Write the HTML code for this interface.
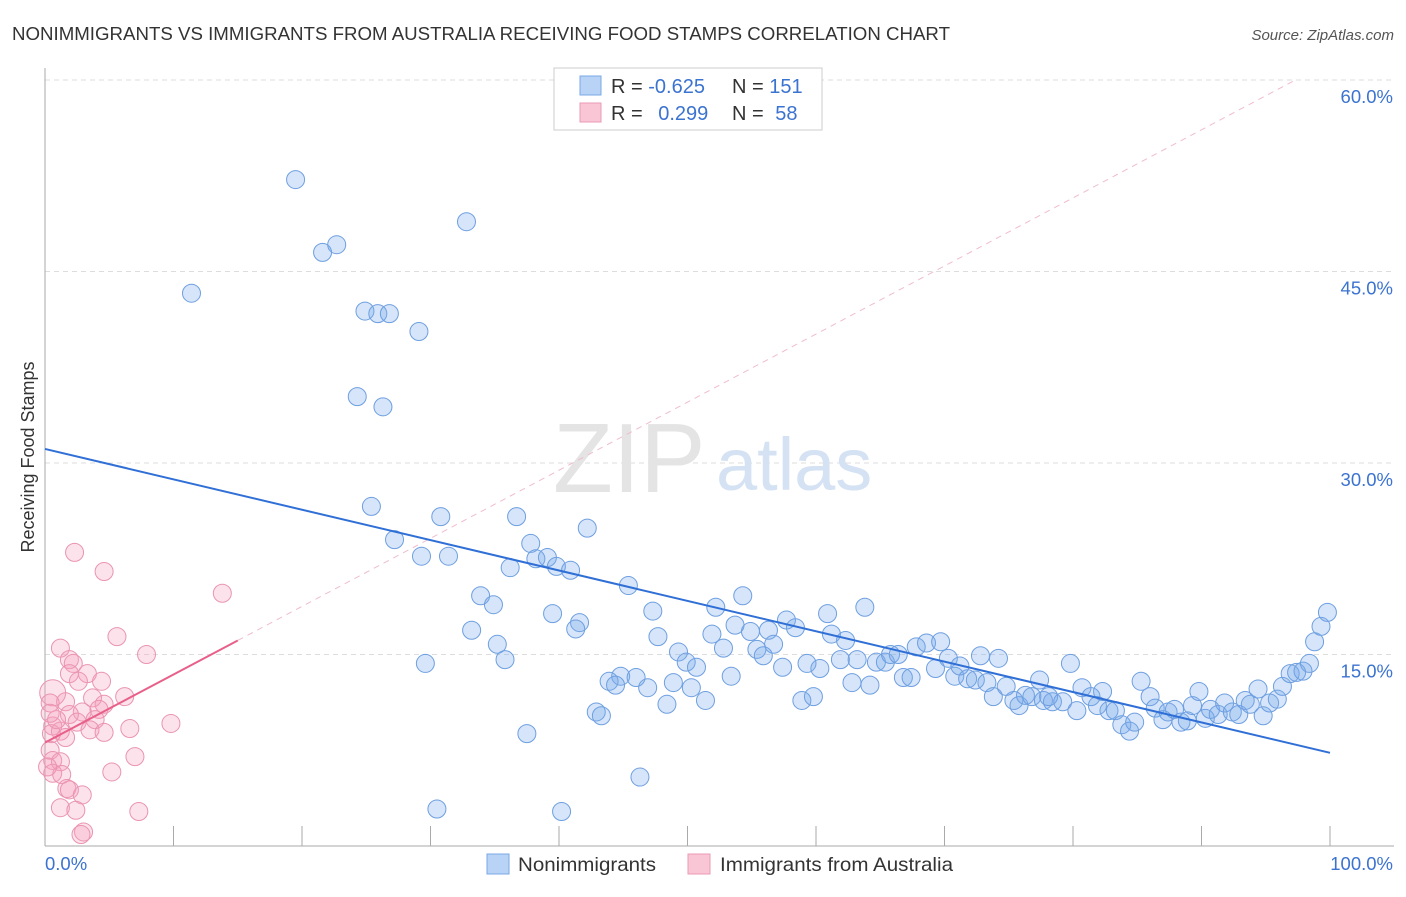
<!DOCTYPE html>
<html><head><meta charset="utf-8">
<style>
body{margin:0;background:#fff;font-family:"Liberation Sans",sans-serif;}
svg text{font-family:"Liberation Sans",sans-serif;}
</style></head>
<body>
<svg id="chart" width="1406" height="892" xmlns="http://www.w3.org/2000/svg">
<text x="12" y="40" font-size="18" fill="#333" textLength="938" lengthAdjust="spacingAndGlyphs">NONIMMIGRANTS VS IMMIGRANTS FROM AUSTRALIA RECEIVING FOOD STAMPS CORRELATION CHART</text>
<text x="1394" y="40" font-size="15" fill="#555" text-anchor="end" font-style="italic">Source: ZipAtlas.com</text>
<text transform="translate(34,457) rotate(-90)" font-size="18" fill="#333" text-anchor="middle">Receiving Food Stamps</text>
<g id="grid"></g>
<text x="553" y="492" font-size="98" fill="#e4e4e4" font-family="Liberation Serif">ZIP</text>
<text x="716" y="490" font-size="74" fill="#d4e2f4">atlas</text>
<g id="marks"></g>
<g id="legend">
<rect x="554" y="68" width="268" height="62" fill="#fff" stroke="#ccc"/>
<rect x="580" y="76" width="21" height="19" fill="#b8d3f5" stroke="#7aa8e6"/>
<rect x="580" y="103" width="21" height="19" fill="#f9c6d6" stroke="#ec9ab5"/>
<text x="611" y="93" font-size="20" fill="#333">R = <tspan fill="#3b73d0">-0.625</tspan></text>
<text x="732" y="93" font-size="20" fill="#333">N = <tspan fill="#3b73d0">151</tspan></text>
<text x="611" y="120" font-size="20" fill="#333">R = <tspan fill="#3b73d0" dx="10">0.299</tspan></text>
<text x="732" y="120" font-size="20" fill="#333">N = <tspan fill="#3b73d0" dx="6">58</tspan></text>
</g>
<g>
<rect x="487" y="854" width="22" height="20" fill="#b8d3f5" stroke="#7aa8e6"/>
<text x="518" y="871" font-size="19.5" fill="#333" textLength="138" lengthAdjust="spacingAndGlyphs">Nonimmigrants</text>
<rect x="688" y="854" width="22" height="20" fill="#f9c6d6" stroke="#ec9ab5"/>
<text x="720" y="871" font-size="19.5" fill="#333" textLength="233" lengthAdjust="spacingAndGlyphs">Immigrants from Australia</text>
</g>
</svg>
<script>
const xTicks=[0,10,20,30,40,50,60,70,80,90,100];
const yTicks=[15,30,45,60];
const blueX=[19.5,21.6,22.7,32.8,11.4,24.9,25.9,26.8,29.1,24.3,26.3,25.4,30.8,36.7,42.2,27.2,29.3,31.4,37.8,38.2,39.1,36.2,39.8,40.9,45.4,33.9,34.9,39.5,41.6,41.3,47.3,54.3,52.2,60.9,63.8,33.2,35.2,35.8,29.6,47.7,51.9,53.7,54.9,56.3,57.7,58.4,61.2,62.3,56.7,52.8,55.4,55.9,49.3,49.9,50.7,44.8,43.9,44.4,46.0,46.9,48.9,50.3,51.4,53.4,57.4,59.3,60.3,61.9,63.2,64.7,65.4,65.8,66.4,62.8,64.2,58.9,59.8,48.4,42.9,43.3,37.5,46.3,30.5,40.2,67.8,68.6,69.7,70.3,69.3,66.8,67.4,70.8,71.2,71.8,72.4,72.8,74.2,73.3,73.8,74.8,75.4,75.8,76.3,76.8,77.4,77.7,78.4,78.1,79.2,79.8,80.3,80.7,81.4,81.9,82.3,82.8,83.3,83.8,84.4,84.8,85.3,86.0,86.4,87.0,87.4,87.9,88.4,88.9,89.3,89.8,90.3,90.7,91.3,91.8,92.4,92.9,93.4,93.8,94.4,94.8,95.3,95.9,96.3,96.9,97.4,97.9,98.4,98.8,99.3,99.8];
const blueY=[52.2,46.5,47.1,48.9,43.3,41.9,41.7,41.7,40.3,35.2,34.4,26.6,25.8,25.8,24.9,24.0,22.7,22.7,23.7,22.5,22.6,21.8,21.9,21.6,20.4,19.6,18.9,18.2,17.5,17.0,18.4,19.6,18.7,18.2,18.7,16.9,15.8,14.6,14.3,16.4,16.6,17.3,16.8,16.9,17.7,17.1,16.6,16.1,15.8,15.5,15.4,14.9,15.2,14.4,14.0,13.3,12.9,12.6,13.2,12.4,12.8,12.4,11.4,13.3,14.0,14.3,13.9,14.6,14.6,14.4,14.4,15.0,15.0,12.8,12.6,11.4,11.7,11.1,10.5,10.2,8.8,5.4,2.9,2.7,15.6,15.9,16.0,14.7,13.9,13.2,13.2,13.3,14.1,13.1,13.0,14.9,14.7,12.8,11.7,12.5,11.4,11.0,11.8,11.7,13.0,11.4,11.3,11.7,11.3,14.3,10.6,12.4,11.7,11.0,12.1,10.6,10.6,9.5,9.0,9.7,12.9,11.7,10.8,9.9,10.5,10.7,9.7,9.8,11.0,12.1,10.0,10.7,10.3,11.2,10.5,10.3,11.4,11.1,12.3,10.2,11.2,11.5,12.5,13.5,13.6,13.7,14.3,16.0,17.2,18.3];
const pinkX=[2.3,4.6,13.8,5.6,7.9,1.2,1.9,2.2,1.9,3.3,2.6,4.4,0.6,3.7,6.2,1.6,4.6,0.4,4.2,2.9,1.9,3.9,2.5,0.6,1.2,3.5,4.6,6.6,9.8,1.6,0.5,0.4,0.6,1.2,0.6,1.3,7.0,5.2,1.7,1.9,2.9,1.2,2.4,7.3,3.0,2.8,0.2,0.9,0.4];
const pinkY=[23.0,21.5,19.8,16.4,15.0,15.5,14.6,14.3,13.5,13.5,12.9,12.9,12.0,11.6,11.7,11.3,11.1,11.2,10.7,10.5,10.3,9.9,9.7,9.4,9.0,9.1,8.9,9.2,9.6,8.5,8.8,7.5,6.7,6.6,5.7,5.6,7.0,5.8,4.5,4.4,4.0,3.0,2.8,2.7,1.1,0.9,6.2,9.9,10.4];
const blueTrend=[31.1,7.3];
const pinkTrend=[8.1,16.1]; // at x=0 and x=15
const X0=45,X1=1330,Y0=846,YTOP=80;
const sx=v=>X0+(X1-X0)*v/100;
const sy=v=>Y0-(Y0-YTOP)*v/60;
const NS="http://www.w3.org/2000/svg";
function mk(tag,attrs,parent){const e=document.createElementNS(NS,tag);for(const k in attrs)e.setAttribute(k,attrs[k]);parent.appendChild(e);return e;}
const grid=document.getElementById('grid');
const marks=document.getElementById('marks');
yTicks.forEach(t=>{
  const l=mk('line',{x1:X0,x2:1394,y1:sy(t),y2:sy(t),stroke:'#ddd','stroke-dasharray':'5,4'},grid);
  
  
  const tx=mk('text',{x:1393,y:sy(t)+23,'font-size':18.5,fill:'#3b73d0','text-anchor':'end'},grid);
  tx.textContent=t.toFixed(1)+'%';
  
  
});
mk('line',{x1:X0,x2:X0,y1:68,y2:Y0,stroke:'#aaa'},grid);
mk('line',{x1:X0,x2:1394,y1:Y0,y2:Y0,stroke:'#aaa'},grid);
xTicks.forEach(t=>{
  const l=mk('line',{x1:sx(t),x2:sx(t),y1:826,y2:Y0,stroke:'#aaa'},grid);
  
  
});
const xl=mk('text',{x:45,y:870,'font-size':18.5,fill:'#3b73d0'},grid);xl.textContent='0.0%';


const xr=mk('text',{x:1393,y:870,'font-size':18.5,fill:'#3b73d0','text-anchor':'end'},grid);xr.textContent='100.0%';


const slope=(pinkTrend[1]-pinkTrend[0])/15;
const xEnd=(60-pinkTrend[0])/slope;
const pd=mk('line',{x1:sx(15),y1:sy(pinkTrend[1]),x2:sx(xEnd),y2:sy(60),stroke:'#f0bccd','stroke-dasharray':'6,5','stroke-width':1},marks);


blueX.forEach((x,i)=>{
  const c=mk('circle',{cx:sx(x),cy:sy(blueY[i]),r:9,fill:'rgba(120,170,235,0.3)',stroke:'#6e9fe0','stroke-width':1},marks);
  
  
});
pinkX.forEach((x,i)=>{
  const c=mk('circle',{cx:sx(x),cy:sy(pinkY[i]),r:(i===12?13:9),fill:'rgba(245,160,190,0.3)',stroke:'#ea94b2','stroke-width':1},marks);
  
  
});
const bt=mk('line',{x1:sx(0),y1:sy(blueTrend[0]),x2:sx(100),y2:sy(blueTrend[1]),stroke:'#2f6fd6','stroke-width':2},marks);


const pt=mk('line',{x1:sx(0),y1:sy(pinkTrend[0]),x2:sx(15),y2:sy(pinkTrend[1]),stroke:'#e8608a','stroke-width':2},marks);


</script>
</body></html>
